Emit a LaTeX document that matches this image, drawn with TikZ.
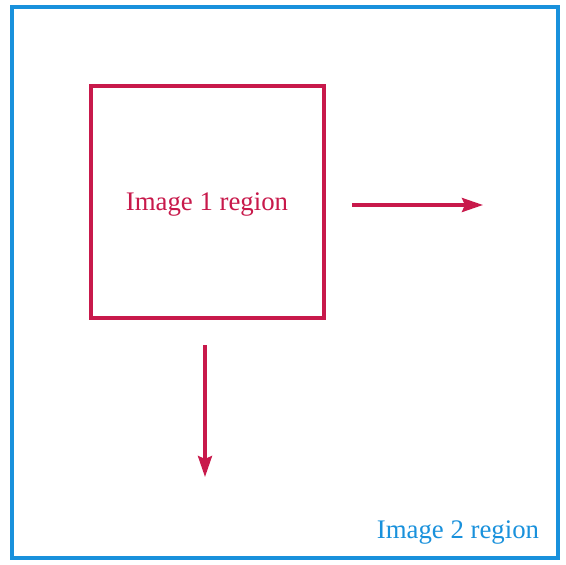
\documentclass[tikz,border=0pt]{standalone}
\usepackage{fontspec}
\setmainfont{Liberation Serif}
\usetikzlibrary{arrows.meta}
\definecolor{outerblue}{RGB}{25,145,220}
\definecolor{crimsonred}{RGB}{200,25,75}
\begin{document}
\begin{tikzpicture}[x=1pt,y=-1pt,
  regionbox/.style={line width=3.6pt},
  regionlabel/.style={font=\fontsize{26.8}{30}\selectfont, inner sep=0pt},
  moveArrow/.style={crimsonred, line width=3.4pt, -{Stealth[length=21pt,width=14pt,inset=3pt]}}]
\useasboundingbox (0,0) rectangle (566,565);
\fill[white] (0,0) rectangle (566,565);
\draw[regionbox, outerblue] (12,7) rectangle (558,558);
\node[draw=crimsonred, regionbox, minimum width=233pt, minimum height=232pt, inner sep=0pt] (img1) at (207.5,202) {};
\node[regionlabel, text=crimsonred] (lbl1) at (207,205) {Image 1 region};
\node[regionlabel, text=outerblue] (lbl2) at (458,533) {Image 2 region};
\coordinate (rs) at (352,205);
\coordinate (re) at (483,205);
\coordinate (ds) at (205,345);
\coordinate (de) at (205,477);
\draw[moveArrow] (rs) -- (re);
\draw[moveArrow] (ds) -- (de);
\end{tikzpicture}
\end{document}
